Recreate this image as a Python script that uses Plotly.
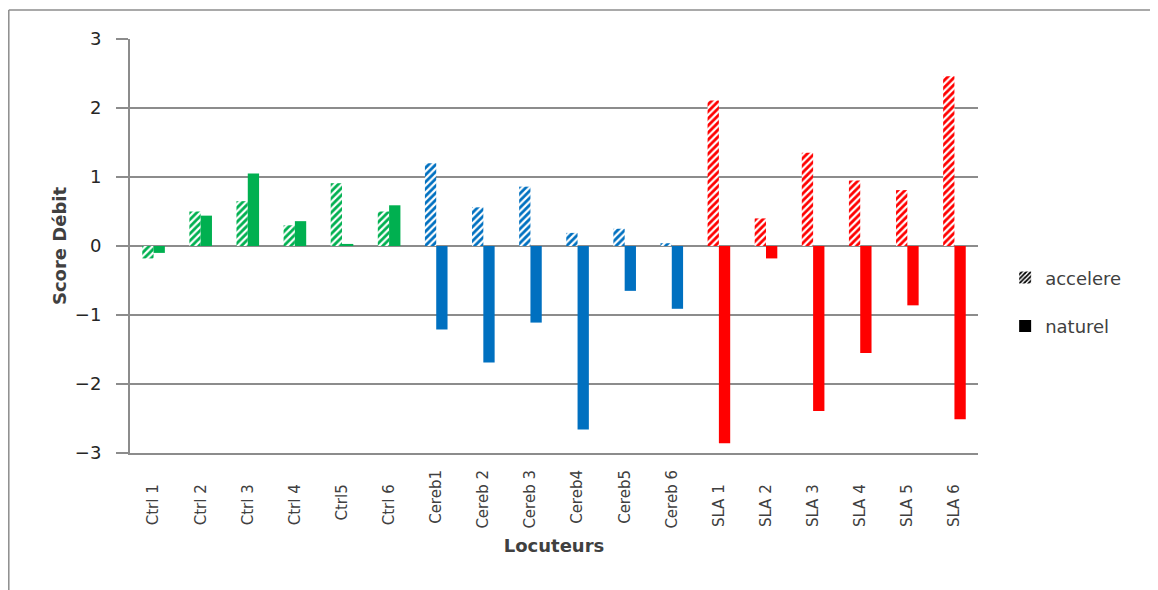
import plotly.graph_objects as go

# Speakers (x categories) and their group colours
locuteurs = ["Ctrl 1", "Ctrl 2", "Ctrl 3", "Ctrl 4", "Ctrl5", "Ctrl 6",
             "Cereb1", "Cereb 2", "Cereb 3", "Cereb4", "Cereb5", "Cereb 6",
             "SLA 1", "SLA 2", "SLA 3", "SLA 4", "SLA 5", "SLA 6"]
groupes = ["ctrl"] * 6 + ["cereb"] * 6 + ["sla"] * 6

# Score Débit
accelere = [-0.18, 0.50, 0.65, 0.30, 0.91, 0.50,
            1.20, 0.56, 0.86, 0.19, 0.25, 0.04,
            2.11, 0.40, 1.35, 0.95, 0.81, 2.46]
naturel = [-0.10, 0.44, 1.05, 0.36, 0.03, 0.59,
           -1.21, -1.69, -1.11, -2.66, -0.65, -0.91,
           -2.86, -0.18, -2.39, -1.55, -0.86, -2.51]

COULEURS = {"ctrl": "#00B050", "cereb": "#0070C0", "sla": "#FF0000"}
GRID = "#8C8C8C"
TXT = "#404040"
FONT = "'DejaVu Sans', sans-serif"

cols = [COULEURS[g] for g in groupes]
W = 0.24

# rotated labels sit against the axis; pad the short ones so their bottoms line up
ticktext = [t if g == "cereb" else t + "\u00a0" * 3 for t, g in zip(locuteurs, groupes)]

fig = go.Figure()
fig.add_bar(
    x=locuteurs, y=accelere, name="accelere", showlegend=False,
    width=W, offset=-W,
    marker=dict(color="white", line=dict(width=0),
                pattern=dict(shape="/", fgcolor=cols, bgcolor="white",
                             size=5, solidity=0.55, fillmode="replace")),
)
fig.add_bar(
    x=locuteurs, y=naturel, name="naturel", showlegend=False,
    width=W, offset=0,
    marker=dict(color=cols, line=dict(width=0)),
)
# legend entries in black, like the original
fig.add_bar(
    x=[locuteurs[0]], y=[None], name="accelere", width=W, offset=-W,
    legendgroup="a",
    marker=dict(color="white", line=dict(width=0),
                pattern=dict(shape="/", fgcolor="black", bgcolor="white",
                             size=4, solidity=0.55, fillmode="replace")),
)
fig.add_bar(
    x=[locuteurs[0]], y=[None], name="naturel", width=W, offset=0,
    legendgroup="n",
    marker=dict(color="black", line=dict(width=0)),
)

fig.update_layout(
    width=1150, height=582,
    margin=dict(l=122, r=180, t=31, b=137),
    plot_bgcolor="white", paper_bgcolor="white",
    font=dict(family=FONT, size=13, color=TXT),
    barmode="overlay",
    showlegend=True,
    legend=dict(x=1.032, y=0.365, xanchor="left", yanchor="middle",
                font=dict(size=18, color=TXT), tracegroupgap=22,
                bgcolor="rgba(0,0,0,0)"),
    xaxis=dict(
        title=dict(text="<b>Locuteurs</b>", font=dict(size=18, color=TXT), standoff=12),
        tickangle=-90, tickfont=dict(size=15, color=TXT),
        tickmode="array", tickvals=locuteurs, ticktext=ticktext,
        ticklabelstandoff=9,
        showgrid=False, showline=True, linecolor=GRID, linewidth=2,
        ticks="", zeroline=False,
    ),
    yaxis=dict(
        title=dict(text="<b>Score Débit</b>", font=dict(size=18, color=TXT), standoff=4),
        range=[-3, 3], dtick=1, tickfont=dict(size=18, color="#262626"),
        showgrid=True, gridcolor=GRID, gridwidth=1.5,
        showline=True, linecolor=GRID, linewidth=2,
        ticks="outside", ticklen=12, tickcolor=GRID, tickwidth=1.5,
        zeroline=False, ticklabelstandoff=11,
    ),
)

# chart-area frame: top and left edges of the original chart box
x_left = (8.8 - 130) / 848
y_top = (453 - 10) / 414
fig.add_shape(type="line", xref="paper", yref="paper",
              x0=x_left, x1=(1158 - 130) / 848, y0=y_top, y1=y_top,
              line=dict(color=GRID, width=1.5), layer="below")
fig.add_shape(type="line", xref="paper", yref="paper",
              x0=x_left, x1=x_left, y0=y_top, y1=(453 - 592) / 414,
              line=dict(color=GRID, width=1.5), layer="below")

fig.write_html("out.html")
